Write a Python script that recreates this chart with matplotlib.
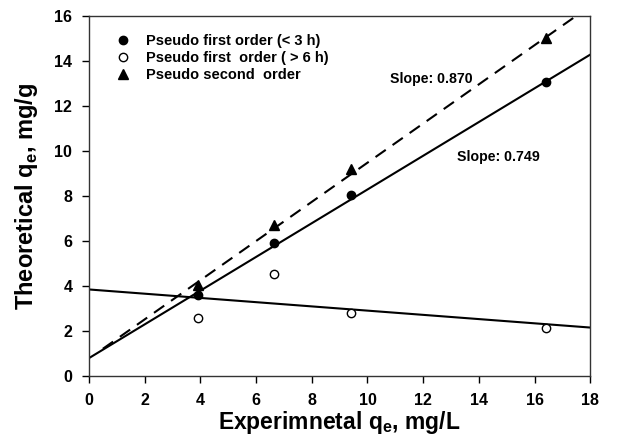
import numpy as np
import matplotlib
matplotlib.use("Agg")
import matplotlib.pyplot as plt

# ===== data =====
x_exp = [3.9, 6.65, 9.4, 16.4]
first_short = [3.6, 5.9, 8.05, 13.05]
first_long = [2.6, 4.55, 2.8, 2.15]
second = [4.05, 6.7, 9.2, 15.0]

# fitted lines: (slope, intercept, x start, x end)
fit_first_short = (0.749, 0.8, 0.0, 18.0)
fit_second = (0.870, 0.78, 0.5, 17.5)
fit_first_long = (-0.094, 3.85, 0.0, 18.0)

plt.rcParams['font.family'] = ['Liberation Sans', 'DejaVu Sans']
plt.rcParams['font.weight'] = 'bold'

fig = plt.figure(figsize=(6.22, 4.42), dpi=100)
ax = fig.add_axes([0.143, 0.149, 0.806, 0.815])

def fit_line(p, **kw):
    m, b, x0, x1 = p
    xs = np.array([x0, x1])
    ax.plot(xs, m * xs + b, color="black", lw=1.5, **kw)

fit_line(fit_first_short, ls="-")
fit_line(fit_second, ls=(0, (6, 4)))
fit_line(fit_first_long, ls="-")

ax.plot(x_exp, first_short, "o", color="black", ms=6, label="Pseudo first order (< 3 h)")
ax.plot(x_exp, first_long, "o", mfc="white", mec="black", mew=1.0, ms=6,
        label="Pseudo first  order ( > 6 h)")
ax.plot(x_exp, second, "^", color="black", ms=6.5, label="Pseudo second  order")

ax.text(10.8, 13.2, "Slope: 0.870", fontsize=10.2, fontweight="bold", ha="left", va="center")
ax.text(13.2, 9.75, "Slope: 0.749", fontsize=10.2, fontweight="bold", ha="left", va="center")

ax.set_xlim(0, 18)
ax.set_ylim(0, 16)
ax.set_xticks(np.arange(0, 19, 2))
ax.set_yticks(np.arange(0, 17, 2))
ax.tick_params(direction="out", length=5, width=1, labelsize=11.5, top=False, right=False, pad=7)
for lab in ax.get_xticklabels() + ax.get_yticklabels():
    lab.set_fontweight("bold")
for s in ax.spines.values():
    s.set_linewidth(1.0)
    s.set_color("#333333")

ax.set_xlabel(r"Experimnetal q$_\mathregular{e}$, mg/L", fontsize=16.5, fontweight="bold", labelpad=1)
ax.set_ylabel(r"Theoretical q$_\mathregular{e}$, mg/g", fontsize=17, fontweight="bold", labelpad=10)

leg = ax.legend(loc="upper left", bbox_to_anchor=(0.02, 0.985), frameon=False,
                fontsize=10.5, handletextpad=0.8, labelspacing=0.2, handlelength=1.5)
for t in leg.get_texts():
    t.set_fontweight("bold")

fig.savefig("out.png", dpi=100)
